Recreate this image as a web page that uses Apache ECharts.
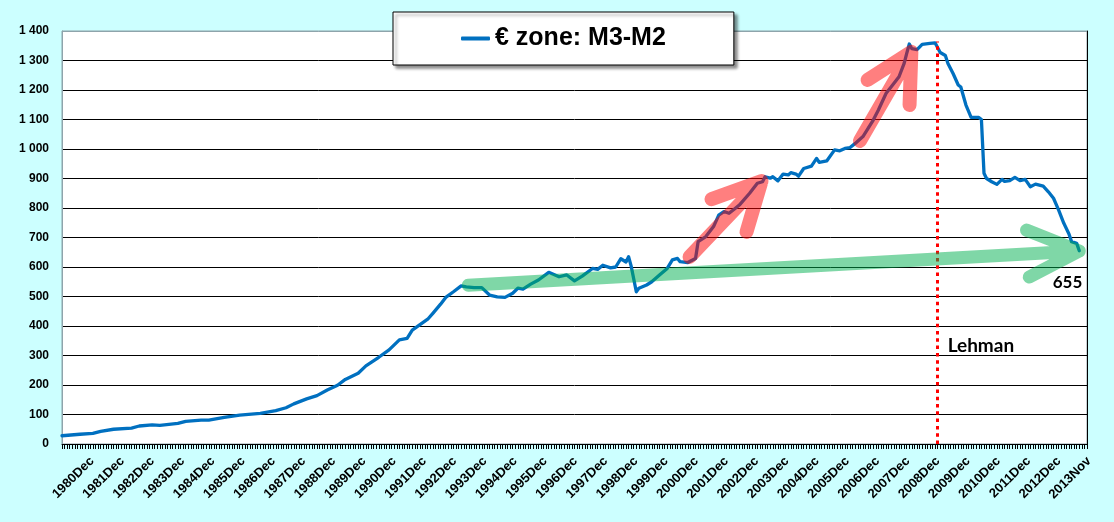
<!DOCTYPE html>
<html>
<head>
<meta charset="utf-8">
<script src="https://cdn.jsdelivr.net/npm/echarts@6/dist/echarts.min.js"></script>
<style>
html,body{margin:0;padding:0;background:#ccffff;}
#c{width:1114px;height:522px;}
</style>
</head>
<body>
<div id="c"></div>
<script>
// month index counted from 1980Dec (0) to 2013Nov (395)
const seriesName = '€ zone: M3-M2';
const xTickLabels = ['1980Dec','1981Dec','1982Dec','1983Dec','1984Dec','1985Dec','1986Dec','1987Dec','1988Dec','1989Dec','1990Dec','1991Dec','1992Dec','1993Dec','1994Dec','1995Dec','1996Dec','1997Dec','1998Dec','1999Dec','2000Dec','2001Dec','2002Dec','2003Dec','2004Dec','2005Dec','2006Dec','2007Dec','2008Dec','2009Dec','2010Dec','2011Dec','2012Dec','2013Nov'];
const monthIndex = [0,7,12,15,20,27,30,35,38,45,48,54,57,63,69,77,83,87,90,95,99,103,107,110,115,118,123,127,131,134,136,142,144,147,149,152,155,157,160,163,166,169,172,175,177,179,182,185,189,193,196,199,202,206,208,210,213,215,217,219,220,221,223,224,227,229,232,235,237,239,240,243,246,247,250,253,255,257,259,261,263,267,270,272,273,275,276,278,280,282,283,285,286,288,291,293,294,297,300,302,304,306,308,311,313,315,317,320,322,325,327,328,329,330,332,334,337,339,341,343,344,346,348,349,351,353,356,357,358,359,361,363,365,366,368,370,372,374,376,378,381,383,385,387,389,391,392,394,395];
const m3m2 = [28,33,36,43,50,54,61,65,63,70,77,81,81,90,98,104,113,123,136,153,164,183,199,219,240,265,294,319,353,358,386,423,443,474,497,516,536,533,530,530,505,499,497,511,528,525,542,556,582,567,573,553,569,595,592,606,597,600,628,617,635,603,516,528,539,550,573,595,624,629,618,615,629,686,703,737,776,788,782,796,810,850,884,889,906,901,906,892,915,912,920,915,908,934,942,968,955,960,997,994,1002,1005,1019,1042,1070,1098,1132,1189,1211,1245,1290,1324,1356,1340,1337,1355,1358,1360,1327,1317,1290,1256,1217,1210,1149,1107,1107,1100,918,900,889,880,897,890,893,904,893,897,872,881,874,855,833,793,748,712,686,680,655];
const lastValue = 655;
const lehmanMonth = 340;

// annotation arrows in data coordinates: [shaftStart, tip, arm1End, arm2End]
const greenArrow = [[155.2,537],[395,654],[374.5,725],[375.6,566]];
const redArrow1 = [[241.8,617],[271.6,891],[252.2,830],[265.8,719]];
const redArrow2 = [[308.5,1007],[329.8,1329],[312.8,1234],[329.1,1149]];

const chart = echarts.init(document.getElementById('c'));
const yLines = [];
for (let k = 0; k < 15; k++) yLines.push(k === 14 ? '#8ea4ab' : '#000000');

chart.setOption({
  animation: false,
  backgroundColor: '#ccffff',
  textStyle: {fontFamily: 'Liberation Sans, Arial, sans-serif'},
  legend: {
    data: [seriesName],
    left: 393, top: 12,
    padding: [14, 68, 14, 68],
    itemWidth: 29, itemHeight: 4, icon: 'roundRect',
    backgroundColor: '#ffffff',
    borderColor: '#000000', borderWidth: 1, borderRadius: 0,
    shadowColor: 'rgba(0,0,0,0.45)', shadowBlur: 3, shadowOffsetX: 3, shadowOffsetY: 3,
    textStyle: {fontSize: 25, fontWeight: 'bold', color: '#000', fontFamily: 'Liberation Sans, Arial, sans-serif'},
    selectedMode: false
  },
  grid: [
    {left: 62, top: 31, width: 1025, height: 413, show: true, backgroundColor: '#ffffff', borderColor: '#8ea4ab', borderWidth: 1},
    {left: 92, top: 31, width: 997, height: 413, show: false}
  ],
  xAxis: [
    {type: 'value', gridIndex: 0, min: 0, max: 398, interval: 12,
     axisLine: {show: true, onZero: false, lineStyle: {color: '#000', width: 1}},
     axisTick: {show: true, length: 5, lineStyle: {color: '#000'}},
     minorTick: {show: true, splitNumber: 12, length: 5, lineStyle: {color: '#000'}},
     axisLabel: {show: false}, splitLine: {show: false}},
    {type: 'category', gridIndex: 1, data: xTickLabels, boundaryGap: false,
     axisLine: {show: false}, axisTick: {show: false}, splitLine: {show: false},
     axisLabel: {interval: 0, rotate: 45, fontSize: 13, fontWeight: 'bold', color: '#000', margin: 15,
       fontFamily: 'Liberation Sans, Arial, sans-serif'}}
  ],
  yAxis: [
    {type: 'value', gridIndex: 0, min: 0, max: 1400, interval: 100, position: 'left',
     axisLine: {show: true, lineStyle: {color: '#8ea4ab'}}, axisTick: {show: false},
     axisLabel: {fontSize: 12, fontWeight: 'bold', color: '#000', margin: 13,
       formatter: v => String(v).replace(/\B(?=(\d{3})+(?!\d))/g, ' ')},
     splitLine: {show: true, lineStyle: {color: yLines, width: 1}}},
    {type: 'value', gridIndex: 0, min: 0, max: 1400, interval: 100, position: 'right',
     axisLine: {show: true, lineStyle: {color: '#000'}}, axisTick: {show: false},
     axisLabel: {show: false}, splitLine: {show: false}},
    {type: 'value', gridIndex: 1, show: false}
  ],
  series: [{
    name: seriesName, type: 'line', xAxisIndex: 0, yAxisIndex: 0,
    data: monthIndex.map((m, k) => [m, m3m2[k]]),
    showSymbol: false, symbol: 'none',
    lineStyle: {color: '#0070c0', width: 3.3, join: 'round', cap: 'round'},
    itemStyle: {color: '#0070c0'},
    markLine: {
      silent: true, symbol: 'none', label: {show: false},
      lineStyle: {color: '#ff0000', width: 3, type: [3.5, 3.8]},
      data: [[{coord: [lehmanMonth, 0]}, {coord: [lehmanMonth, 1364]}]]
    }
  }]
});

function px(p) { return chart.convertToPixel({gridIndex: 0}, p); }
function arrowGraphic(a, color, width) {
  const s = px(a[0]), t = px(a[1]), e1 = px(a[2]), e2 = px(a[3]);
  const dx = t[0] - s[0], dy = t[1] - s[1], len = Math.hypot(dx, dy);
  const s2 = [s[0] + dx / len * width / 2, s[1] + dy / len * width / 2];
  return {
    type: 'polyline', z: 100, silent: true,
    shape: {points: [s2, t, e1, t, e2]},
    style: {stroke: color, lineWidth: width, fill: null, lineCap: 'round', lineJoin: 'round'}
  };
}
const lx = px([lehmanMonth, 0])[0];
const lehY = px([0, 332])[1];
const endP = px([395, lastValue]);
const lblY = px([0, 547])[1];
chart.setOption({
  graphic: [
    arrowGraphic(greenArrow, 'rgba(0,176,80,0.5)', 13),
    arrowGraphic(redArrow1, 'rgba(255,0,0,0.5)', 14),
    arrowGraphic(redArrow2, 'rgba(255,0,0,0.5)', 14),
    {type: 'text', z: 110, silent: true, x: lx + 10, y: lehY,
     style: {text: 'Lehman', fill: '#000', font: 'bold 19px Lato, sans-serif', align: 'left', verticalAlign: 'middle', textAlign: 'left', textVerticalAlign: 'middle'}},
    {type: 'text', z: 110, silent: true, x: endP[0] + 3, y: lblY,
     style: {text: String(lastValue), fill: '#000', font: 'bold 17px Lato, sans-serif', align: 'right', verticalAlign: 'middle', textAlign: 'right', textVerticalAlign: 'middle'}}
  ]
});
</script>
</body>
</html>
